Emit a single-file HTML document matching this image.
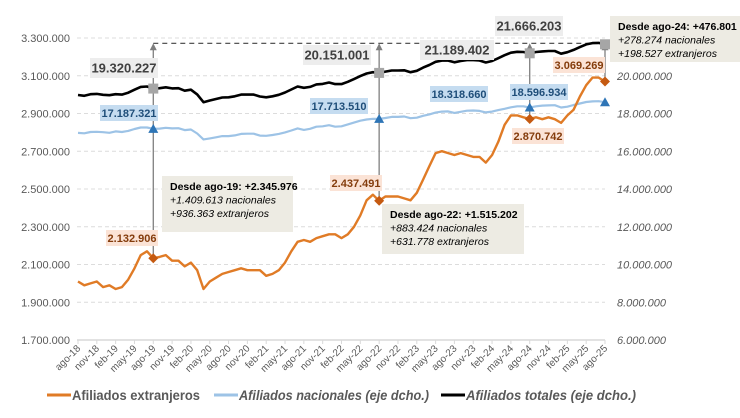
<!DOCTYPE html>
<html><head><meta charset="utf-8"><style>
body{margin:0;background:#fff;width:740px;height:413px;overflow:hidden;font-family:"Liberation Sans",sans-serif}
svg text{font-family:"Liberation Sans",sans-serif}
</style></head><body>
<svg id="c" width="740" height="413" xmlns="http://www.w3.org/2000/svg"></svg>
<script>
const months=["ago-18","nov-18","feb-19","may-19","ago-19","nov-19","feb-20","may-20","ago-20","nov-20","feb-21","may-21","ago-21","nov-21","feb-22","may-22","ago-22","nov-22","feb-23","may-23","ago-23","nov-23","feb-24","may-24","ago-24","nov-24","feb-25","may-25","ago-25"];
const extranjeros=[2.01,1.99,2.0,2.01,1.98,1.99,1.97,1.98,2.02,2.08,2.15,2.17,2.132906,2.14,2.15,2.12,2.12,2.09,2.11,2.07,1.97,2.01,2.03,2.05,2.06,2.07,2.08,2.07,2.07,2.07,2.04,2.05,2.07,2.11,2.17,2.22,2.23,2.22,2.24,2.25,2.26,2.26,2.24,2.26,2.30,2.36,2.44,2.47,2.437491,2.46,2.46,2.46,2.45,2.44,2.48,2.55,2.62,2.69,2.70,2.69,2.68,2.69,2.68,2.67,2.67,2.64,2.68,2.75,2.84,2.89,2.89,2.88,2.870742,2.88,2.87,2.88,2.87,2.85,2.89,2.92,2.99,3.05,3.09,3.09,3.069269];
const nacionales=[16.97,16.95,17.02,17.03,17.01,16.98,17.05,17.02,17.08,17.18,17.26,17.26,17.187321,17.20,17.24,17.21,17.22,17.12,17.15,16.94,16.63,16.68,16.74,16.80,16.80,16.84,16.92,16.93,16.93,16.83,16.82,16.86,16.92,17.00,17.10,17.21,17.13,17.19,17.30,17.32,17.38,17.30,17.32,17.42,17.52,17.62,17.68,17.72,17.71351,17.76,17.82,17.82,17.84,17.75,17.78,17.88,17.95,18.05,18.10,18.11,18.03,18.09,18.15,18.16,18.14,18.06,18.10,18.18,18.25,18.33,18.38,18.38,18.31866,18.38,18.42,18.43,18.44,18.32,18.36,18.45,18.53,18.61,18.64,18.65,18.596934];
const totales=nacionales.map((v,i)=>v+extranjeros[i]);
const leftTicks=["1.700.000","1.900.000","2.100.000","2.300.000","2.500.000","2.700.000","2.900.000","3.100.000","3.300.000"];
const rightTicks=["6.000.000","8.000.000","10.000.000","12.000.000","14.000.000","16.000.000","18.000.000","20.000.000"];
const markIdx=[12,48,72,84];
const totLabels=["19.320.227","20.151.001","21.189.402","21.666.203"];
const nacLabels=["17.187.321","17.713.510","18.318.660","18.596.934"];
const extLabels=["2.132.906","2.437.491","2.870.742","3.069.269"];

const S=document.getElementById('c'),NS="http://www.w3.org/2000/svg";
const X0=78,X1=605,YB=340,YT=38;
const x=i=>X0+(X1-X0)*i/(extranjeros.length-1);
const yL=v=>YB-(v-1.7)/(3.3-1.7)*(YB-YT);
const yR=v=>YB-(v-6)/(22-6)*(YB-YT);
function el(t,a,p){const e=document.createElementNS(NS,t);for(const k in a)e.setAttribute(k,a[k]);(p||S).appendChild(e);return e;}
function tx(s,a){const e=el('text',a);e.textContent=s;return e;}
leftTicks.forEach((t,i)=>{const y=YB-i*(YB-YT)/8;
 const g=el('line',{x1:77,x2:X1,y1:y,y2:y,stroke:i==0?'#d9d9d9':'#dcdcdc','stroke-width':i==0?1.5:1,'stroke-dasharray':i==0?'':'4,3'});
 
 
 const l=tx(t,{x:70,y:y+4,'text-anchor':'end','font-size':11,fill:'#595959'});
 
 });
rightTicks.forEach((t,i)=>{const y=YB-i*(YB-YT)/8;
 const l=tx(t,{x:617,y:y+4,'font-size':11,'font-style':'italic',fill:'#595959'});
 
 });
months.forEach((m,i)=>{const xx=x(i*3);
 el('line',{x1:xx,x2:xx,y1:YB,y2:YB+4,stroke:'#d9d9d9'});
 const l=tx(m,{x:xx+3,y:YB+9,'font-size':10,fill:'#595959','text-anchor':'end',transform:`rotate(-45 ${xx+3} ${YB+9})`});
 
 });
const topY=yR(totales[84])-1;
const dl=el('line',{x1:x(12),x2:x(84),y1:topY,y2:topY,stroke:'#404040','stroke-width':1.2,'stroke-dasharray':'5,4'});


markIdx.forEach(i=>{const xx=x(i);
 const v=el('line',{x1:xx,x2:xx,y1:topY+4,y2:yL(extranjeros[i]),stroke:'#7f7f7f','stroke-width':1.3});
 
 
 el('polygon',{points:`${xx-3.5},${topY+7} ${xx+3.5},${topY+7} ${xx},${topY}`,fill:'#7f7f7f'});});
function line(arr,f,col,w,name){const d=arr.map((v,i)=>(i?'L':'M')+x(i).toFixed(1)+','+f(v).toFixed(1)).join('');
 const p=el('path',{d,fill:'none',stroke:col,'stroke-width':w,'stroke-linejoin':'round'});
 
 }
line(nacionales,yR,'#9dc3e6',2.2,'line-nacionales');
line(totales,yR,'#000',2.6,'line-totales');
line(extranjeros,yL,'#e07b26',2.4,'line-extranjeros');
markIdx.forEach(i=>{const xx=x(i);
 const s=el('rect',{x:xx-5,y:yR(totales[i])-5,width:10,height:10,fill:'#a6a6a6'});
 
 
 const yn=yR(nacionales[i]);
 const t=el('polygon',{points:`${xx-5},${yn+4} ${xx+5},${yn+4} ${xx},${yn-5}`,fill:'#2e75b6'});
 
 
 const ye=yL(extranjeros[i]);
 const dm=el('polygon',{points:`${xx-5},${ye} ${xx},${ye-5} ${xx+5},${ye} ${xx},${ye+5}`,fill:'#c55a11'});
 
 });
function lab(s,cx,cy,w,h,bg,col,fs,name){el('rect',{x:cx,y:cy,width:w,height:h,fill:bg});
 const t=tx(s,{x:cx+w/2,y:cy+h/2+fs*0.36,'text-anchor':'middle','font-size':fs,'font-weight':'bold',fill:col});
 
 }
const totPos=[[90,58],[303,45],[420,40],[495,16]];
totLabels.forEach((s,k)=>lab(s,totPos[k][0],totPos[k][1],k==2?74:68,20,'#ededed','#404040',13,'total-label'));
const nacPos=[[100,105],[310,98],[430,86],[510,84]];
nacLabels.forEach((s,k)=>lab(s,nacPos[k][0],nacPos[k][1],58,16,'#c5dcf0','#1f4e79',11,'nacional-label'));
const extPos=[[106,230],[330,175],[512,128],[553,57]];
extLabels.forEach((s,k)=>lab(s,extPos[k][0],extPos[k][1],52,16,'#fbe3d6','#843c0c',11,'extranjeros-label'));
function box(bx,by,w,h,lines,name){const r=el('rect',{x:bx,y:by,width:w,height:h,fill:'#edebe3'});
 
 
 lines.forEach((l,k)=>{tx(l,{x:bx+8,y:by+14+k*13.5,'font-size':10.5,'font-weight':k?'normal':'bold','font-style':k?'italic':'normal',fill:'#000'});});}
box(162,176,131,56,["Desde ago-19: +2.345.976","+1.409.613 nacionales","+936.363 extranjeros"],'annotation-ago-19');
box(382,204,142,50,["Desde ago-22: +1.515.202","+883.424 nacionales","+631.778 extranjeros"],'annotation-ago-22');
box(610,16,130,46,["Desde ago-24: +476.801","+278.274 nacionales","+198.527 extranjeros"],'annotation-ago-24');
const leg=[[47,'#e07b26','Afiliados extranjeros','normal',128],[214,'#9dc3e6','Afiliados nacionales (eje dcho.)','italic',190],[441,'#000','Afiliados totales (eje dcho.)','italic',170]];
leg.forEach(l=>{el('line',{x1:l[0],x2:l[0]+24,y1:395,y2:395,stroke:l[1],'stroke-width':3});
 const t=tx(l[2],{x:l[0]+25,y:400,'font-size':14,'font-weight':'bold','font-style':l[3],fill:'#595959',textLength:l[4],lengthAdjust:'spacingAndGlyphs'});
 
 });
</script>
</body></html>
